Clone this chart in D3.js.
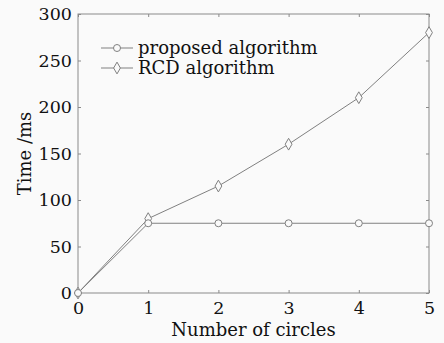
<!DOCTYPE html>
<html>
<head>
<meta charset="utf-8">
<script src="https://cdn.jsdelivr.net/npm/d3@7"></script>
<style>
  body { margin: 0; background: #fafafa; }
  svg { display: block; }
  text { font-family: "DejaVu Serif", "Liberation Serif", serif; fill: #111; }
</style>
</head>
<body>
<div id="chart"></div>
<script>
const circles = [0, 1, 2, 3, 4, 5];
const proposedTimes = [0, 75, 75, 75, 75, 75];
const rcdTimes = [0, 80, 115, 160, 210, 280];
const yTicks = [0, 50, 100, 150, 200, 250, 300];
const seriesNames = ['proposed algorithm', 'RCD algorithm'];

const width = 444, height = 343;
const margin = { top: 14, right: 15, bottom: 50, left: 78 };
const innerW = width - margin.left - margin.right;
const innerH = height - margin.top - margin.bottom;
const lineColor = '#808080';

const svg = d3.select('#chart').append('svg')
    .attr('width', width)
    .attr('height', height);

svg.append('rect')
    .attr('width', width).attr('height', height)
    .attr('fill', '#fafafa');

const g = svg.append('g')
    .attr('transform', `translate(${margin.left},${margin.top})`);

const x = d3.scaleLinear().domain([0, 5]).range([0, innerW]);
const y = d3.scaleLinear().domain([0, 300]).range([innerH, 0]);

// frame
g.append('rect')
    .attr('width', innerW).attr('height', innerH)
    .attr('fill', 'none')
    .attr('stroke', '#8a8a8a')
    .attr('stroke-width', 1);

// inward ticks on all four sides
const tickLen = 3;
function styleAxis(sel) {
    sel.select('.domain').remove();
    sel.selectAll('line').attr('stroke', '#8a8a8a');
    sel.selectAll('text')
        .style('font-family', '"DejaVu Serif", "Liberation Serif", serif')
        .style('font-size', '17.5px')
        .attr('fill', '#111');
}

g.append('g')
    .attr('transform', `translate(0,${innerH})`)
    .call(d3.axisBottom(x).tickValues(circles).tickSize(-tickLen).tickPadding(9).tickFormat(d3.format('d')))
    .call(styleAxis);

g.append('g')
    .call(d3.axisTop(x).tickValues(circles).tickSize(-tickLen).tickFormat(''))
    .call(styleAxis);

g.append('g')
    .call(d3.axisLeft(y).tickValues(yTicks).tickSize(-tickLen).tickPadding(6))
    .call(styleAxis);

g.append('g')
    .attr('transform', `translate(${innerW},0)`)
    .call(d3.axisRight(y).tickValues(yTicks).tickSize(-tickLen).tickFormat(''))
    .call(styleAxis);

// lines
const line = d3.line()
    .x((d, i) => x(circles[i]))
    .y(d => y(d));

const diamond = d3.symbol().type(d3.symbolDiamond).size(40);

function drawSeries(values, shape) {
    g.append('path')
        .datum(values)
        .attr('fill', 'none')
        .attr('stroke', lineColor)
        .attr('stroke-width', 1)
        .attr('d', line);
    values.forEach((v, i) => {
        drawMarker(g, x(circles[i]), y(v), shape);
    });
}

function drawMarker(parent, px, py, shape) {
    if (shape === 'circle') {
        parent.append('circle')
            .attr('cx', px).attr('cy', py).attr('r', 3.5)
            .attr('fill', '#fafafa')
            .attr('stroke', lineColor);
    } else {
        parent.append('path')
            .attr('transform', `translate(${px},${py})`)
            .attr('d', diamond)
            .attr('fill', '#fafafa')
            .attr('stroke', lineColor);
    }
}

drawSeries(rcdTimes, 'diamond');
drawSeries(proposedTimes, 'circle');

// legend
const legend = g.append('g').attr('transform', 'translate(23,34)');
const shapes = ['circle', 'diamond'];
seriesNames.forEach((name, i) => {
    const ly = i * 20;
    legend.append('line')
        .attr('x1', 0).attr('x2', 32)
        .attr('y1', ly).attr('y2', ly)
        .attr('stroke', lineColor);
    drawMarker(legend, 16, ly, shapes[i]);
    legend.append('text')
        .attr('x', 37).attr('y', ly)
        .attr('dy', '0.35em')
        .style('font-size', '18px')
        .text(name);
});

// axis labels
svg.append('text')
    .attr('x', margin.left + innerW / 2)
    .attr('y', 336)
    .attr('text-anchor', 'middle')
    .style('font-size', '18px')
    .text('Number of circles');

svg.append('text')
    .attr('transform', `translate(31,${margin.top + innerH / 2}) rotate(-90)`)
    .attr('text-anchor', 'middle')
    .style('font-size', '18px')
    .text('Time /ms');
</script>
</body>
</html>
